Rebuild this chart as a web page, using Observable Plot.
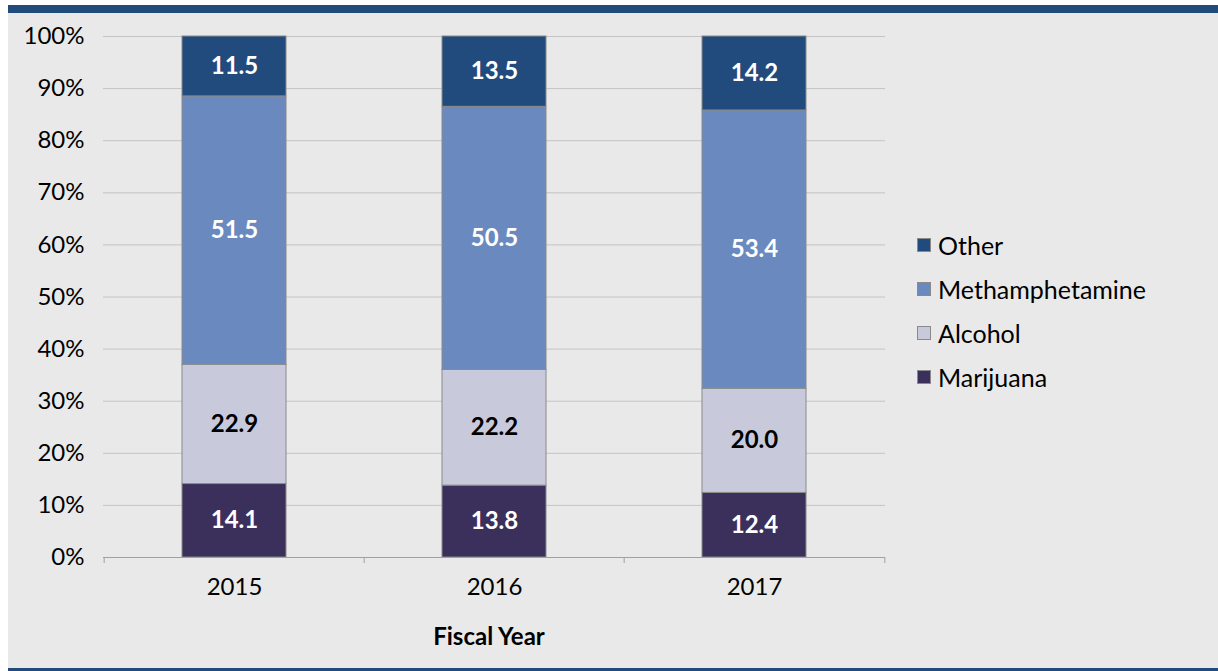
<!DOCTYPE html>
<html>
<head>
<meta charset="utf-8">
<script src="https://cdn.jsdelivr.net/npm/d3@7"></script>
<script src="https://cdn.jsdelivr.net/npm/@observablehq/plot@0.6"></script>
<style>
  html, body { margin: 0; padding: 0; background: #ffffff; }
  #frame {
    position: absolute; left: 8px; top: 5px; width: 1210px; height: 655px;
    background: #e9e9e9; border-top: 8px solid #214b7c; border-bottom: 4px solid #214b7c;
    font-family: Lato, "Open Sans", sans-serif;
  }
  #chart { position: absolute; left: 0; top: 0; }
  #legend { position: absolute; left: 909px; top: 210px; }
  #xtitle { position: absolute; left: 0; width: 962px; top: 608px; text-align: center;
    font-weight: bold; font-size: 24px; color: #000; }
  .item { display: flex; align-items: center; height: 44px; font-size: 25px; color: #000; }
  .sw { width: 12px; height: 12px; border: 1px solid #8a8a8a; margin-right: 7px; }
</style>
</head>
<body>
<div id="frame"><div id="chart"></div><div id="legend"></div><div id="xtitle"></div></div>
<script>
const years = ["2015", "2016", "2017"];
const categories = ["Marijuana", "Alcohol", "Methamphetamine", "Other"];
const marijuana = [14.1, 13.8, 12.4];
const alcohol = [22.9, 22.2, 20.0];
const methamphetamine = [51.5, 50.5, 53.4];
const other = [11.5, 13.5, 14.2];
const yTicks = [0, 10, 20, 30, 40, 50, 60, 70, 80, 90, 100];
const legendOrder = ["Other", "Methamphetamine", "Alcohol", "Marijuana"];
const xTitle = "Fiscal Year";
const colors = ["#3b2f5c", "#c8cadb", "#6a8abf", "#214b7c"];
const labelColors = ["#ffffff", "#000000", "#ffffff", "#ffffff"];

const series = [marijuana, alcohol, methamphetamine, other];
const rows = [];
years.forEach((yr, i) => {
  categories.forEach((c, j) => rows.push({year: yr, cat: c, value: series[j][i]}));
});

const W = 1210, H = 640;
const mL = 95, mR = 333, mT = 23, mB = 96;
const step = (W - mL - mR) / years.length;

const chart = Plot.plot({
  width: W, height: H,
  marginLeft: mL, marginRight: mR, marginTop: mT, marginBottom: mB,
  style: {background: "transparent", fontFamily: "Lato, 'Open Sans', sans-serif", fontSize: "24px", color: "#000"},
  x: {domain: years, paddingInner: 0.6, paddingOuter: 0.3, label: null},
  y: {domain: [0, 100], label: null},
  color: {domain: categories, range: colors},
  marks: [
    Plot.gridY(yTicks, {stroke: "#c4c4c4", strokeOpacity: 1, strokeWidth: 1}),
    Plot.barY(rows, {x: "year", y: "value", fill: "cat", order: categories, stroke: "#8a8a8a", strokeWidth: 1}),
    Plot.text(rows, Plot.stackY({x: "year", y: "value", z: "cat", order: categories,
      text: d => d.value.toFixed(1),
      fill: d => labelColors[categories.indexOf(d.cat)],
      fontWeight: "bold", fontSize: 24})),
    Plot.ruleY([0], {stroke: "#a0a0a0", strokeWidth: 1}),
    Plot.ruleX(years, {x: d => d, y1: 0, y2: 0, dx: -step / 2, insetBottom: -6, stroke: "#a0a0a0"}),
    Plot.ruleX(years.slice(-1), {x: d => d, y1: 0, y2: 0, dx: step / 2, insetBottom: -6, stroke: "#a0a0a0"}),
    Plot.axisY(yTicks, {tickSize: 0, tickPadding: 19, tickFormat: d => d + "%", fontSize: 24}),
    Plot.axisX(years, {tickSize: 0, tickPadding: 20, fontSize: 24, label: null})
  ]
});
document.getElementById("chart").appendChild(chart);
document.getElementById("xtitle").textContent = xTitle;

const legend = document.getElementById("legend");
legendOrder.forEach(c => {
  const it = document.createElement("div");
  it.className = "item";
  const sw = document.createElement("div");
  sw.className = "sw";
  sw.style.background = colors[categories.indexOf(c)];
  const t = document.createElement("span");
  t.textContent = c;
  it.appendChild(sw); it.appendChild(t);
  legend.appendChild(it);
});
</script>
</body>
</html>
